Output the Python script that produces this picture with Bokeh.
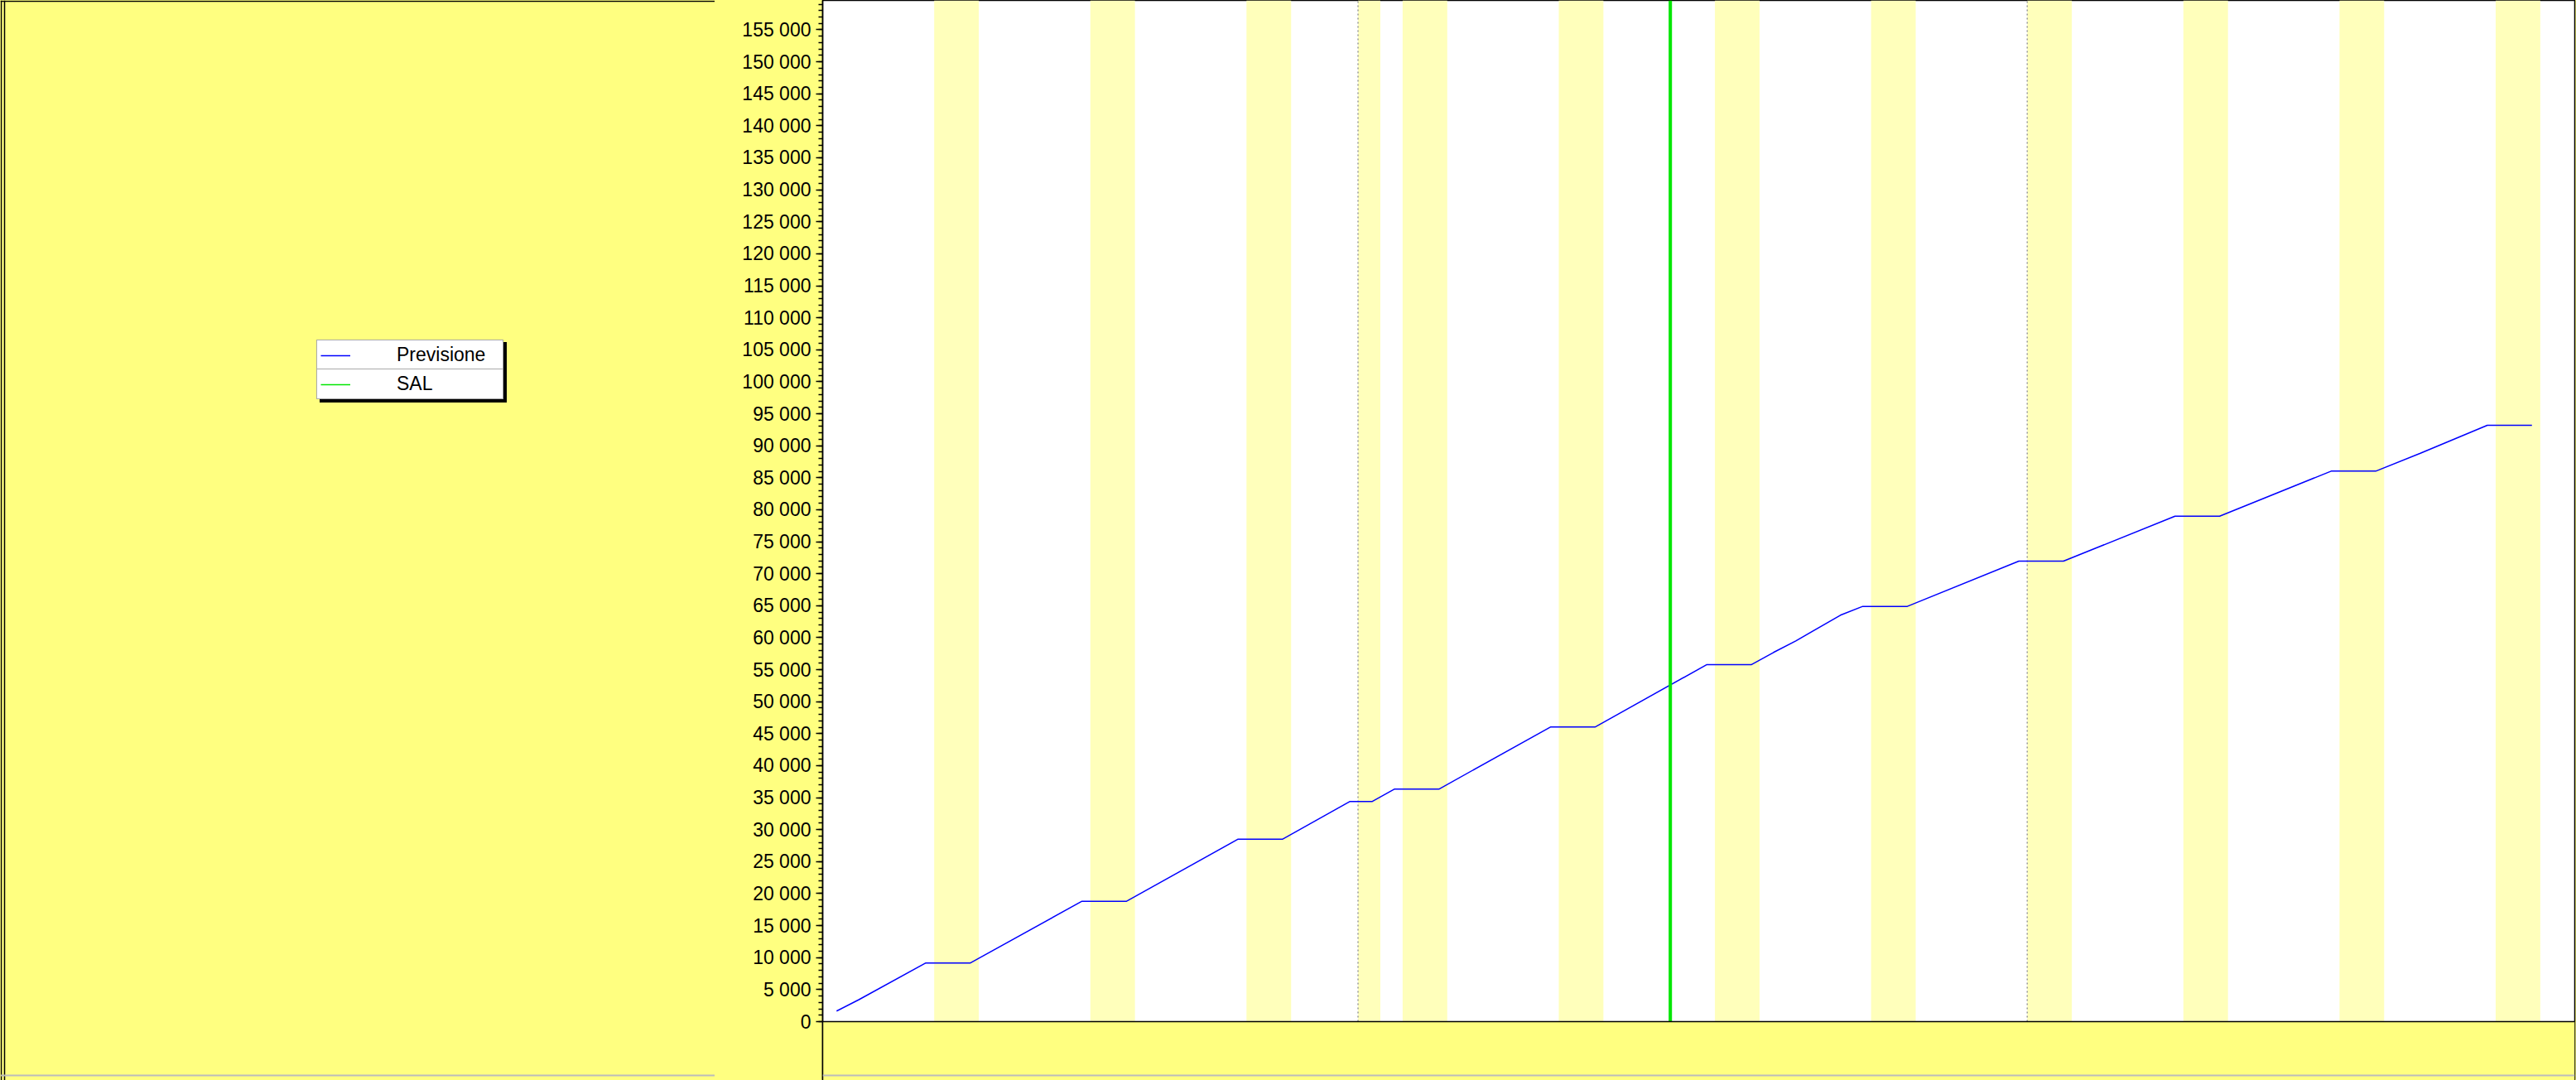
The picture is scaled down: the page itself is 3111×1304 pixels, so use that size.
import pandas as pd
from bokeh.plotting import figure
from bokeh.layouts import row
from bokeh.models import (Range1d, BoxAnnotation, Span, FixedTicker, Legend, LegendItem)
from bokeh.embed import file_html
from bokeh.resources import INLINE

# ---- data ----
forecast_dates = [
    "2018-10-08 15:00", "2018-10-09 15:00", "2018-10-12 15:00", "2018-10-14 15:00",
    "2018-10-19 15:00", "2018-10-21 15:00", "2018-10-26 15:00", "2018-10-28 15:00",
    "2018-10-31 15:00", "2018-11-01 15:00", "2018-11-02 15:00", "2018-11-04 15:00",
    "2018-11-09 15:00", "2018-11-11 15:00", "2018-11-16 15:00", "2018-11-18 15:00",
    "2018-11-19 15:00", "2018-11-20 15:00", "2018-11-22 15:00", "2018-11-23 15:00",
    "2018-11-25 15:00", "2018-11-30 15:00", "2018-12-02 15:00", "2018-12-07 15:00",
    "2018-12-09 15:00", "2018-12-14 15:00", "2018-12-16 15:00", "2018-12-18 15:00",
    "2018-12-21 15:00", "2018-12-23 15:00",
]
forecast_values = [
    1650, 3430, 9170, 9170,
    18810, 18810, 28520, 28520,
    34390, 34390, 36330, 36330,
    46040, 46040, 55770, 55770,
    57690, 59500, 63510, 64890,
    64890, 71960, 71960, 78990,
    78990, 86030, 86030, 88830,
    93190, 93190,
]
sal_date = "2018-11-15"
nonworking_start = ["2018-10-13", "2018-10-20", "2018-10-27", "2018-11-01", "2018-11-03",
                    "2018-11-10", "2018-11-17", "2018-11-24", "2018-12-01", "2018-12-08",
                    "2018-12-15", "2018-12-22"]
nonworking_end = ["2018-10-15", "2018-10-22", "2018-10-29", "2018-11-02", "2018-11-05",
                  "2018-11-12", "2018-11-19", "2018-11-26", "2018-12-03", "2018-12-10",
                  "2018-12-17", "2018-12-24"]
month_starts = ["2018-11-01", "2018-12-01"]
y_ticks = list(range(0, 155001, 5000))
y_tick_labels = ["{:,}".format(v).replace(",", " ") for v in y_ticks]
series_names = ["Previsione", "SAL"]

# ---- styling ----
PANEL = "#FFFF80"
BAND = "#FFFFBB"
FONT = "Liberation Sans"
BLUE = "#0000FF"
GREEN = "#00E600"
TOTAL_W, H = 3111, 1304
FRAME_LEFT = 993
LEFT_W = 865
OVERLAP = 2
PX_PER_5000 = 38.63
ZERO_Y = 1233

# ---------- left panel (legend area) ----------
lp = figure(width=LEFT_W, height=H, output_backend="svg", toolbar_location=None,
            x_axis_location=None, y_axis_location=None, min_border=0,
            x_range=Range1d(0, LEFT_W), y_range=Range1d(0, H),
            styles={"background-color": PANEL})
lp.background_fill_color = PANEL
lp.border_fill_color = PANEL
lp.outline_line_color = None
lp.grid.visible = False
d_prev = lp.line(x=[float("nan")], y=[float("nan")], line_color=BLUE, line_width=1.5)
d_sal = lp.line(x=[float("nan")], y=[float("nan")], line_color=GREEN, line_width=1.5)

# page frame: double line on the left, line on top, grey line at the bottom
for xl in (1.0, 5.0):
    lp.add_layout(Span(location=xl, dimension="height", line_color="black", line_width=1.5))
lp.add_layout(Span(location=H - 1, dimension="width", line_color="black", line_width=1.5))
lp.add_layout(Span(location=H - 1298, dimension="width", line_color="#BBBBBB", line_width=2))


def make_legend(items, loc, bg, border, spacing):
    lg = Legend(items=items, location=loc, orientation="vertical")
    lg.background_fill_color = bg
    lg.background_fill_alpha = 1
    lg.border_line_color = border
    lg.border_line_width = 1
    lg.label_text_font = FONT
    lg.label_text_font_size = "23px"
    lg.label_text_color = "black"
    lg.padding = 4
    lg.spacing = spacing
    lg.margin = 0
    lg.label_height = 26
    lg.glyph_height = 26
    lg.glyph_width = 36
    lg.label_standoff = 56
    lg.label_width = 124
    return lg


def it_prev():
    return LegendItem(label=series_names[0], renderers=[d_prev])


def it_sal():
    return LegendItem(label=series_names[1], renderers=[d_sal])


# shadow, then the two rows whose borders meet to form the separator
lp.add_layout(make_legend([it_prev(), it_sal()], (386, H - 486), "black", "black", 9), "center")
lp.add_layout(make_legend([it_prev()], (382, H - 447), "white", "#555555", 0), "center")
lp.add_layout(make_legend([it_sal()], (382, H - 482), "white", "#555555", 0), "center")

# ---------- main chart ----------
x_start = pd.Timestamp("2018-10-08")
frame_w = 3109 - FRAME_LEFT
x_end = x_start + pd.Timedelta(days=frame_w / 26.94)
y_end = ZERO_Y / PX_PER_5000 * 5000
y_start = -(H - ZERO_Y) / PX_PER_5000 * 5000
y_bottom_line = -(1298 - ZERO_Y) / PX_PER_5000 * 5000

p = figure(width=TOTAL_W - LEFT_W + OVERLAP, height=H, output_backend="svg", toolbar_location=None,
           x_axis_location=None, min_border_left=FRAME_LEFT - LEFT_W + OVERLAP, min_border_right=2,
           min_border_top=0, min_border_bottom=0,
           x_range=Range1d(x_start, x_end), y_range=Range1d(y_start, y_end),
           styles={"background-color": PANEL, "margin-left": "-%dpx" % OVERLAP})
p.background_fill_color = "white"
p.border_fill_color = PANEL
p.outline_line_color = "black"
p.outline_line_width = 1.5
p.grid.visible = False

for s, e in zip(nonworking_start, nonworking_end):
    p.add_layout(BoxAnnotation(left=pd.Timestamp(s), right=pd.Timestamp(e), bottom=0,
                               fill_color=BAND, fill_alpha=1, line_alpha=0, level="underlay"))
p.add_layout(BoxAnnotation(top=0, fill_color=PANEL, fill_alpha=1, line_alpha=0, level="underlay"))

ms = [pd.Timestamp(d) for d in month_starts]
p.segment(x0=ms, x1=ms, y0=[0] * len(ms), y1=[y_end] * len(ms),
          line_color="#999999", line_width=1.5, line_dash="2 3")

fx = pd.to_datetime(forecast_dates)
p.line(fx, forecast_values, line_color=BLUE, line_width=1.5)
sx = pd.Timestamp(sal_date)
p.line([sx, sx], [0, y_end], line_color=GREEN, line_width=4)

p.add_layout(Span(location=0, dimension="width", line_color="black", line_width=1.5))
p.add_layout(Span(location=y_bottom_line, dimension="width", line_color="#BBBBBB", line_width=2))

ax = p.yaxis[0]
ax.ticker = FixedTicker(ticks=y_ticks, minor_ticks=list(range(0, 159001, 1000)))
ax.major_label_overrides = {v: t for v, t in zip(y_ticks, y_tick_labels)}
ax.major_label_text_font = FONT
ax.major_label_text_font_size = "23px"
ax.major_label_text_color = "black"
ax.major_label_standoff = 6
ax.major_tick_out = 8
ax.major_tick_in = 0
ax.minor_tick_out = 5
ax.minor_tick_in = 0
ax.axis_line_color = "black"
ax.axis_line_width = 1.5
ax.major_tick_line_color = "black"
ax.major_tick_line_width = 1.5
ax.minor_tick_line_color = "black"
ax.minor_tick_line_width = 1.5

layout = row(lp, p, spacing=0, styles={"background-color": PANEL})
open("out.html", "w").write(file_html(layout, INLINE))
